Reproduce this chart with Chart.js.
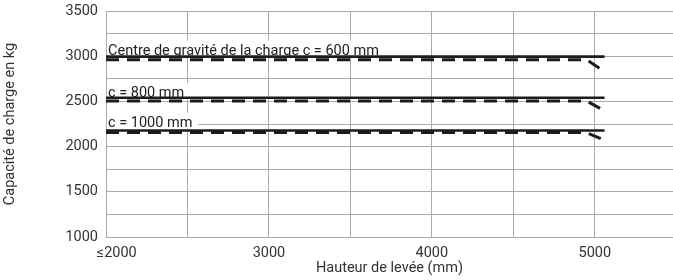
<!DOCTYPE html>
<html>
<head>
<meta charset="utf-8">
<script src="https://cdn.jsdelivr.net/npm/chart.js@4/dist/chart.umd.min.js"></script>
<style>
  html, body { margin: 0; padding: 0; background: #fff; }
  #wrap { width: 673px; height: 280px; position: relative; }
</style>
</head>
<body>
<div id="wrap"><canvas id="c" width="673" height="280"></canvas></div>
<script>
// ---- Data ----
const solidHeights = [2000, 5060];
const dashedHeights = [2000, 4950, 5060];
const solid600 = [2995, 2995];
const dashed600 = [2962, 2962, 2830];
const solid800 = [2540, 2540];
const dashed800 = [2505, 2505, 2395];
const solid1000 = [2178, 2178];
const dashed1000 = [2155, 2155, 2070];
const curveLabels = ['Centre de gravité de la charge c = 600 mm', 'c = 800 mm', 'c = 1000 mm'];
const xTickLabels = { 2000: '      \u22642000', 3000: '3000', 4000: '4000', 5000: '5000' };
const yTickValues = [1000, 1500, 2000, 2500, 3000, 3500];
const xTitle = 'Hauteur de levée (mm)';
const yTitle = 'Capacité de charge en kg';

const FONT = 'Roboto';
const toPts = (xs, ys) => xs.map((x, i) => ({ x: x, y: ys[i] }));

const solidStyle = { borderColor: '#1c1c1c', borderWidth: 2.6, pointRadius: 0, fill: false, tension: 0 };
const dashStyle = { borderColor: '#1c1c1c', borderWidth: 3, borderDash: [13, 8], pointRadius: 0, fill: false, tension: 0 };

const datasets = [
  Object.assign({ label: curveLabels[0], data: toPts(solidHeights, solid600) }, solidStyle),
  Object.assign({ label: curveLabels[0] + ' (d)', data: toPts(dashedHeights, dashed600) }, dashStyle),
  Object.assign({ label: curveLabels[1], data: toPts(solidHeights, solid800) }, solidStyle),
  Object.assign({ label: curveLabels[1] + ' (d)', data: toPts(dashedHeights, dashed800) }, dashStyle),
  Object.assign({ label: curveLabels[2], data: toPts(solidHeights, solid1000) }, solidStyle),
  Object.assign({ label: curveLabels[2] + ' (d)', data: toPts(dashedHeights, dashed1000) }, dashStyle)
];

const labelValues = [solid600[0], solid800[0], solid1000[0]];
const labelGap = [2, 1, 4];

const curveLabelPlugin = {
  id: 'curveLabels',
  beforeDatasetsDraw(chart) {
    const ctx = chart.ctx;
    const xs = chart.scales.x, ys = chart.scales.y;
    ctx.save();
    ctx.font = '14.5px ' + FONT;
    ctx.textBaseline = 'alphabetic';
    ctx.textAlign = 'left';
    curveLabels.forEach((t, i) => {
      const x0 = xs.getPixelForValue(solidHeights[0]) + 2;
      const yb = ys.getPixelForValue(labelValues[i]) - labelGap[i];
      const w = ctx.measureText(t).width;
      ctx.fillStyle = '#ffffff';
      ctx.fillRect(x0 - 1, yb - 14, w + 7, 16);
      ctx.fillStyle = '#222';
      ctx.fillText(t, x0, yb);
    });
    ctx.restore();
  }
};

new Chart(document.getElementById('c'), {
  type: 'line',
  data: { datasets: datasets },
  plugins: [curveLabelPlugin],
  options: {
    responsive: false,
    animation: false,
    events: [],
    layout: { padding: { top: 11, right: 0, left: 0, bottom: 0 } },
    plugins: { legend: { display: false }, tooltip: { enabled: false } },
    scales: {
      x: {
        type: 'linear',
        min: 2000,
        max: 5480,
        afterBuildTicks(s) {
          const t = [];
          for (let v = 2000; v <= 5000; v += 500) t.push({ value: v });
          s.ticks = t;
        },
        afterFit(s) { s.height = 43; s.paddingLeft = 0; s.paddingRight = 0; },
        grid: { color: '#aaaaaa', lineWidth: 1, drawTicks: false },
        border: { color: '#aaaaaa', width: 1 },
        ticks: {
          autoSkip: false,
          maxRotation: 0,
          padding: 8,
          color: '#333',
          font: { family: FONT, size: 14.5 },
          callback: (v) => (xTickLabels[v] !== undefined ? xTickLabels[v] : '')
        },
        title: {
          display: true,
          text: xTitle,
          color: '#333',
          font: { family: FONT, size: 14.5 },
          padding: { top: 0, bottom: 3 }
        }
      },
      y: {
        type: 'linear',
        min: 1000,
        max: 3500,
        afterBuildTicks(s) {
          const t = [];
          for (let v = 1000; v <= 3500; v += 250) t.push({ value: v });
          s.ticks = t;
        },
        afterFit(s) { s.width = 106; s.paddingTop = 0; s.paddingBottom = 0; },
        grid: { color: '#aaaaaa', lineWidth: 1, drawTicks: false },
        border: { color: '#aaaaaa', width: 1 },
        ticks: {
          autoSkip: false,
          padding: 8,
          color: '#333',
          font: { family: FONT, size: 14.5 },
          callback: (v) => (yTickValues.includes(v) ? String(v) : '')
        },
        title: {
          display: true,
          text: yTitle,
          color: '#333',
          font: { family: FONT, size: 14.5 },
          padding: { top: 2, bottom: 0 }
        }
      }
    }
  }
});
</script>
</body>
</html>
